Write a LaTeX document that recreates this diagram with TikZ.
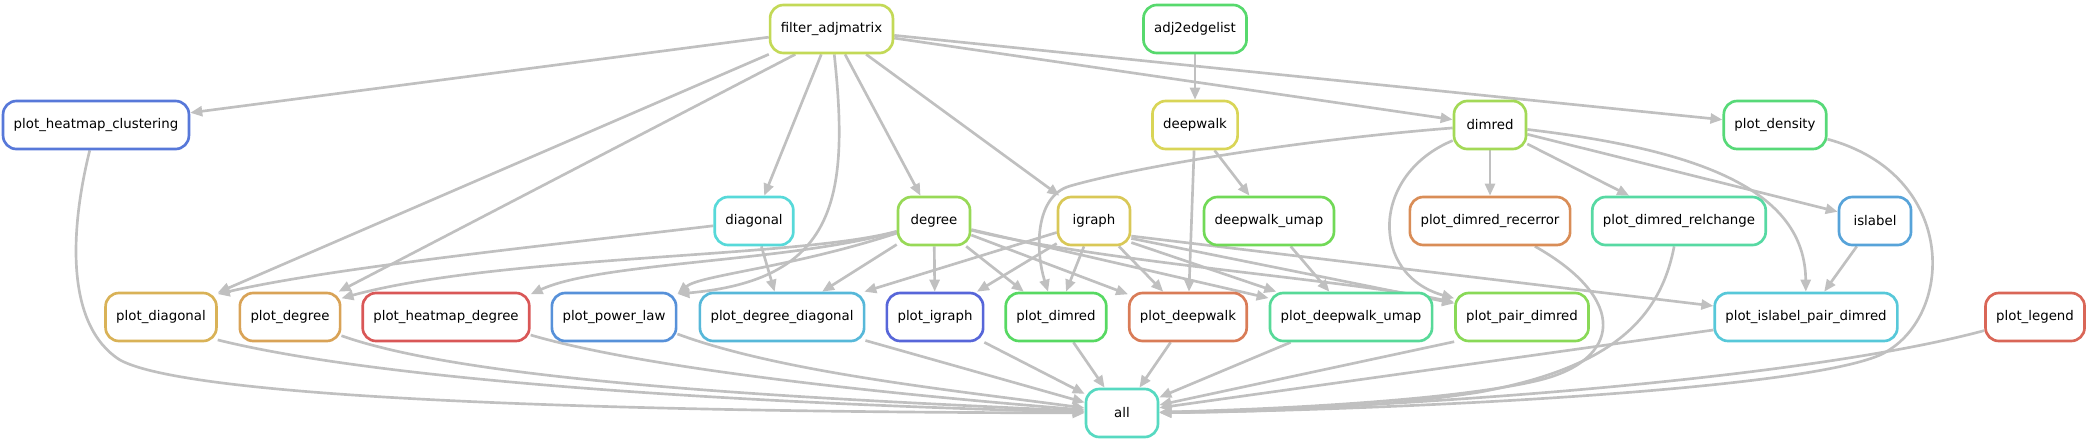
\documentclass[tikz,border=0pt]{standalone}
\usepackage{fontspec}
\setmainfont{DejaVu Sans}
\usetikzlibrary{arrows.meta}
\pgfdeclarelayer{edges}
\pgfsetlayers{edges,main}
\definecolor{edgegray}{HTML}{C0C0C0}
\definecolor{cFA}{HTML}{C3D957}
\definecolor{cAE}{HTML}{57D96D}
\definecolor{cPHC}{HTML}{5778D9}
\definecolor{cDW}{HTML}{D9D557}
\definecolor{cDIM}{HTML}{A3D957}
\definecolor{cPDEN}{HTML}{57D978}
\definecolor{cDIAG}{HTML}{57D9D9}
\definecolor{cDEG}{HTML}{98D957}
\definecolor{cIG}{HTML}{D9C857}
\definecolor{cDWU}{HTML}{71D957}
\definecolor{cPREC}{HTML}{D98D57}
\definecolor{cPREL}{HTML}{57D9A3}
\definecolor{cISL}{HTML}{57A3D9}
\definecolor{cPDIAG}{HTML}{D9B257}
\definecolor{cPDEG}{HTML}{D9A357}
\definecolor{cPHD}{HTML}{D95757}
\definecolor{cPPL}{HTML}{5791D9}
\definecolor{cPDD}{HTML}{57B8D9}
\definecolor{cPIG}{HTML}{5766D9}
\definecolor{cPDIM}{HTML}{57D962}
\definecolor{cPDW}{HTML}{D97C57}
\definecolor{cPDWU}{HTML}{57D998}
\definecolor{cPPAIR}{HTML}{89D957}
\definecolor{cPIPD}{HTML}{57C8D9}
\definecolor{cPLEG}{HTML}{D96657}
\definecolor{cALL}{HTML}{57D9C1}
\begin{document}
\begin{tikzpicture}[x=0.75pt,y=-0.75pt,
  nd/.style={draw=#1, line width=2pt, rounded corners=10pt, minimum width=54pt,
    minimum height=36pt, inner xsep=8pt, inner ysep=0pt, fill=white, text=black,
    font=\fontsize{10pt}{12pt}\selectfont},
  edg/.style={draw=edgegray, line width=2pt, -{Triangle[length=9pt,width=7.5pt]}}]
\useasboundingbox (0,0) rectangle (2090,443);
% nodes
\node[nd=cFA] (fa) at (831.5,29) {filter\_adjmatrix};
\node[nd=cAE] (a2e) at (1195,29) {adj2edgelist};
\node[nd=cPHC] (phc) at (96,125) {plot\_heatmap\_clustering};
\node[nd=cDW] (dw) at (1195,125) {deepwalk};
\node[nd=cDIM] (dim) at (1490,125) {dimred};
\node[nd=cPDEN] (pden) at (1775,125) {plot\_density};
\node[nd=cDIAG] (diag) at (754,221) {diagonal};
\node[nd=cDEG] (deg) at (934,221) {degree};
\node[nd=cIG] (ig) at (1094,221) {igraph};
\node[nd=cDWU] (dwu) at (1269,221) {deepwalk\_umap};
\node[nd=cPREC] (prec) at (1490,221) {plot\_dimred\_recerror};
\node[nd=cPREL] (prel) at (1679,221) {plot\_dimred\_relchange};
\node[nd=cISL] (isl) at (1875,221) {islabel};
\node[nd=cPDIAG] (pdiag) at (161,317) {plot\_diagonal};
\node[nd=cPDEG] (pdeg) at (290,317) {plot\_degree};
\node[nd=cPHD] (phd) at (446,317) {plot\_heatmap\_degree};
\node[nd=cPPL] (ppl) at (614,317) {plot\_power\_law};
\node[nd=cPDD] (pdd) at (782,317) {plot\_degree\_diagonal};
\node[nd=cPIG] (pig) at (935,317) {plot\_igraph};
\node[nd=cPDIM] (pdim) at (1056,317) {plot\_dimred};
\node[nd=cPDW] (pdw) at (1188,317) {plot\_deepwalk};
\node[nd=cPDWU] (pdwu) at (1351,317) {plot\_deepwalk\_umap};
\node[nd=cPPAIR] (ppair) at (1522,317) {plot\_pair\_dimred};
\node[nd=cPIPD] (pipd) at (1806,317) {plot\_islabel\_pair\_dimred};
\node[nd=cPLEG] (pleg) at (2035,317) {plot\_legend};
\node[nd=cALL] (all) at (1122,413) {all};
\begin{pgfonlayer}{edges}
% filter_adjmatrix
\draw[edg] (fa) -- (phc);
\draw[edg] (fa.-158) -- (pdiag);
\draw[edg] (fa.-145) -- (pdeg);
\draw[edg] (fa) -- (diag);
\draw[edg] (fa) .. controls (850,200) and (835,280) .. (ppl.20);
\draw[edg] (fa) -- (deg);
\draw[edg] (fa) -- (ig);
\draw[edg] (fa) -- (dim);
\draw[edg] (fa) -- (pden);
% adj2edgelist / deepwalk
\draw[edg] (a2e) -- (dw);
\draw[edg] (dw) -- (dwu);
\draw[edg] (dw) -- (pdw);
\draw[edg] (dwu) -- (pdwu);
% dimred
\draw[edg] (dim) -- (prec);
\draw[edg] (dim) -- (prel);
\draw[edg] (dim) -- (isl);
\draw[edg] (dim) .. controls (1700,150) and (1805,190) .. (pipd);
\draw[edg] (dim) .. controls (1370,175) and (1370,275) .. (ppair);
\draw[edg] (dim) .. controls (1300,140) and (1140,166) .. (1070,186)
                 .. controls (1035,196) and (1035,250) .. (pdim);
\draw[edg] (isl) -- (pipd);
% diagonal
\draw[edg] (diag) .. controls (550,245) and (330,268) .. (pdiag.22);
\draw[edg] (diag) -- (pdd);
% degree
\draw[edg] (deg) .. controls (800,258) and (500,255) .. (pdeg.20);
\draw[edg] (deg) .. controls (790,262) and (600,262) .. (phd.15);
\draw[edg] (deg) .. controls (790,268) and (700,275) .. (ppl.20);
\draw[edg] (deg) -- (pdd);
\draw[edg] (deg) -- (pig);
\draw[edg] (deg) -- (pdim);
\draw[edg] (deg) -- (pdw);
\draw[edg] (deg) -- (pdwu);
\draw[edg] (deg) .. controls (1100,262) and (1350,280) .. (ppair);
% igraph
\draw[edg] (ig) -- (pdd);
\draw[edg] (ig) -- (pig);
\draw[edg] (ig) -- (pdim);
\draw[edg] (ig) -- (pdw);
\draw[edg] (ig.-30) -- (pdwu);
\draw[edg] (ig.-25) -- (ppair);
\draw[edg] (ig.-22) -- (pipd);
% to all
\draw[edg] (phc) .. controls (70,230) and (65,325) .. (120,360)
                 .. controls (190,398) and (600,412) .. (all);
\draw[edg] (pdiag.-22) .. controls (400,385) and (800,405) .. (all);
\draw[edg] (pdeg.-20) .. controls (480,385) and (850,400) .. (all);
\draw[edg] (phd.-12) .. controls (650,370) and (900,395) .. (all);
\draw[edg] (ppl.-15) .. controls (780,372) and (950,390) .. (all);
\draw[edg] (pdd) -- (all);
\draw[edg] (pig) -- (all);
\draw[edg] (pdim) -- (all);
\draw[edg] (pdw) -- (all);
\draw[edg] (pdwu) -- (all);
\draw[edg] (ppair.200) -- (all);
\draw[edg] (prec) .. controls (1630,300) and (1620,360) .. (1540,380)
                  .. controls (1450,402) and (1250,410) .. (all);
\draw[edg] (prel) .. controls (1660,320) and (1610,368) .. (1480,392)
                  .. controls (1380,408) and (1250,412) .. (all);
\draw[edg] (pipd) -- (all);
\draw[edg] (pden) .. controls (1960,175) and (1955,320) .. (1880,355)
                  .. controls (1800,390) and (1400,410) .. (all);
\draw[edg] (pleg) .. controls (1800,380) and (1400,408) .. (all);
\end{pgfonlayer}
\end{tikzpicture}
\end{document}
